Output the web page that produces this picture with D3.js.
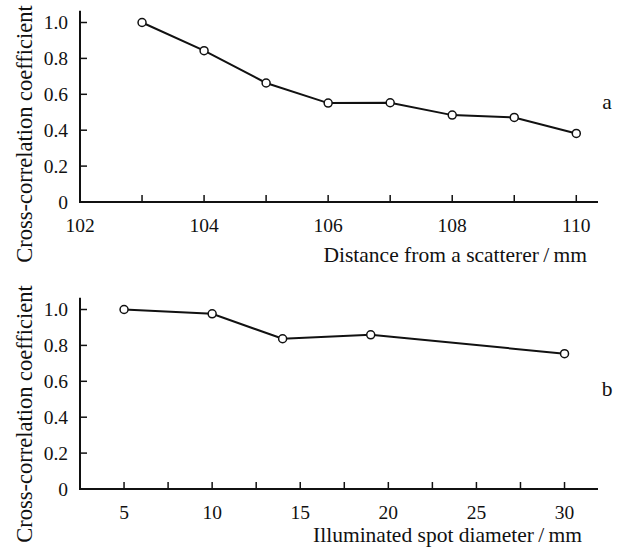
<!DOCTYPE html>
<html><head><meta charset="utf-8">
<script src="https://cdn.jsdelivr.net/npm/d3@7"></script>
<style>body{margin:0;background:#fff}svg{display:block}</style>
</head><body>
<svg id="c" width="632" height="552" font-family="'Liberation Serif', 'DejaVu Serif', Times, serif"></svg>
<script>
// Panel a
const distA = [103,104,105,106,107,108,109,110];
const corrA = [1.0,0.843,0.663,0.551,0.553,0.484,0.471,0.382];
const tickLabelsA = [102,104,106,108,110];
const tickMarksA = [103,104,105,106,107,108,109,110];
// Panel b
const spotB = [5,10,14,19,30];
const corrB = [1.0,0.976,0.837,0.859,0.754];
const tickLabelsB = [5,10,15,20,25,30];
const tickMarksB = [5,7.5,10,12.5,15,17.5,20,22.5,25,27.5,30];
const yTicks = [0,0.2,0.4,0.6,0.8,1.0];
const yTitle = "Cross-correlation coefficient";

const svg = d3.select("#c");
const FS = 19.5, TS = 21.5, YS = 22.5;

function panel(o){
  const g = svg.append("g").attr("fill","#111");
  const x = d3.scaleLinear().domain(o.xdom).range([80,598]);
  const y = d3.scaleLinear().domain([0,1]).range([o.y0, o.y0-179.5]);
  const yTop = y(1.065);
  g.append("path").attr("d",`M80,${yTop}V${o.y0}H598`).attr("fill","none").attr("stroke","#111").attr("stroke-width",2);
  g.selectAll(".yt").data(yTicks.slice(1)).join("line")
    .attr("x1",80).attr("x2",87).attr("y1",d=>y(d)).attr("y2",d=>y(d)).attr("stroke","#111").attr("stroke-width",1.5);
  g.selectAll(".yl").data(yTicks).join("text")
    .attr("x",68).attr("y",d=>y(d)).attr("dy","0.35em").attr("text-anchor","end").attr("font-size",FS)
    .text(d=>d===0?"0":d3.format(".1f")(d));
  g.selectAll(".xt").data(o.marks).join("line")
    .attr("x1",d=>x(d)).attr("x2",d=>x(d)).attr("y1",o.y0).attr("y2",o.y0-7).attr("stroke","#111").attr("stroke-width",1.5);
  g.selectAll(".xl").data(o.labels).join("text")
    .attr("x",d=>x(d)).attr("y",o.y0+29.5).attr("text-anchor","middle").attr("font-size",FS).text(d=>d);
  g.append("text").attr("x",o.titleX).attr("y",o.y0+o.titleDy).attr("text-anchor","end").attr("font-size",TS).text(o.title);
  g.append("text").attr("transform",`translate(32,${o.yTitleC}) rotate(-90)`).attr("text-anchor","middle").attr("font-size",YS).text(yTitle);
  g.append("text").attr("x",607).attr("y",o.letterY).attr("text-anchor","middle").attr("font-size",TS).text(o.letter);
  const pts = o.xs.map((v,i)=>[v,o.ys[i]]);
  g.append("path").attr("d",d3.line().x(d=>x(d[0])).y(d=>y(d[1]))(pts))
    .attr("fill","none").attr("stroke","#111").attr("stroke-width",2);
  g.selectAll(".pt").data(pts).join("circle")
    .attr("cx",d=>x(d[0])).attr("cy",d=>y(d[1])).attr("r",4).attr("fill","#fff").attr("stroke","#111").attr("stroke-width",1.5);
}

panel({xdom:[102,110.35], y0:202, marks:tickMarksA, labels:tickLabelsA, xs:distA, ys:corrA,
  title:"Distance from a scatterer\u2009/\u2009mm", titleX:587, titleDy:59.5, yTitleC:134, letter:"a", letterY:109});
panel({xdom:[2.5,31.9], y0:489, marks:tickMarksB, labels:tickLabelsB, xs:spotB, ys:corrB,
  title:"Illuminated spot diameter\u2009/\u2009mm", titleX:582, titleDy:53, yTitleC:414, letter:"b", letterY:396});
</script>
</body></html>
